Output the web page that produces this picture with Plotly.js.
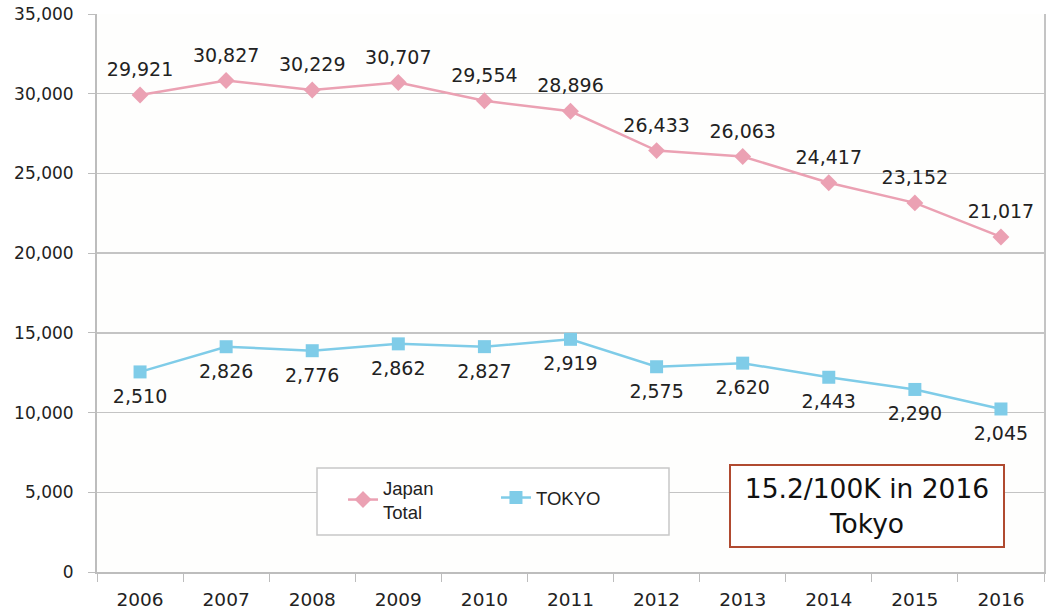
<!DOCTYPE html>
<html>
<head>
<meta charset="utf-8">
<script src="https://cdn.plot.ly/plotly-3.0.1.min.js"></script>
<style>html,body{margin:0;padding:0;background:#fff;}#chart{width:1048px;height:614px;}</style>
</head>
<body>
<div id="chart"></div>
<script>
const years = ["2006","2007","2008","2009","2010","2011","2012","2013","2014","2015","2016"];
const japanTotal = [29921, 30827, 30229, 30707, 29554, 28896, 26433, 26063, 24417, 23152, 21017];
const tokyo = [2510, 2826, 2776, 2862, 2827, 2919, 2575, 2620, 2443, 2290, 2045];
const yTickVals = [0, 5000, 10000, 15000, 20000, 25000, 30000, 35000];

const fmt = v => v.toLocaleString("en-US");
const FONT = "DejaVu Sans, Verdana, sans-serif";
const pink = "#EBA1B3";
const blue = "#7FCCE8";
const labelFont = {family: FONT, size: 19, color: "#222"};

const traces = [
  {
    x: years, y: japanTotal, name: "Japan<br>Total", type: "scatter",
    mode: "lines+markers", legend: "legend",
    line: {color: pink, width: 2.5},
    marker: {symbol: "diamond", size: 13, color: pink},
    cliponaxis: false
  },
  {
    x: years, y: tokyo, name: "TOKYO", type: "scatter", yaxis: "y2",
    mode: "lines+markers", legend: "legend2",
    line: {color: blue, width: 2.5},
    marker: {symbol: "square", size: 13, color: blue},
    cliponaxis: false
  },
  {
    x: years, y: japanTotal, type: "scatter", mode: "markers+text", showlegend: false,
    text: japanTotal.map(fmt), textposition: "top center", textfont: labelFont,
    marker: {size: 21, color: pink, opacity: 0}, cliponaxis: false, hoverinfo: "skip"
  },
  {
    x: years, y: tokyo, yaxis: "y2", type: "scatter", mode: "markers+text", showlegend: false,
    text: tokyo.map(fmt), textposition: "bottom center", textfont: labelFont,
    marker: {size: 25, color: blue, opacity: 0}, cliponaxis: false, hoverinfo: "skip"
  }
];

const legendFont = {family: "Liberation Sans, Arial, sans-serif", size: 18.5, color: "#222"};

const layout = {
  width: 1048, height: 614,
  margin: {l: 97, r: 4, t: 14, b: 42},
  paper_bgcolor: "#ffffff", plot_bgcolor: "#fefefd",
  font: {family: FONT, color: "#222"},
  showlegend: true,
  xaxis: {
    type: "category", tickson: "boundaries",
    ticks: "outside", ticklen: 8, tickcolor: "#bdbdbd",
    showline: true, linecolor: "#bdbdbd", linewidth: 2,
    showgrid: false, zeroline: false,
    ticklabelstandoff: 10,
    tickfont: {family: FONT, size: 18.5, color: "#222"},
    range: [-0.5, 10.5]
  },
  yaxis: {
    range: [0, 35000], tickvals: yTickVals, ticktext: yTickVals.map(fmt),
    showgrid: true, gridcolor: "#c4c4c4", gridwidth: 1.5,
    showline: true, linecolor: "#bdbdbd", linewidth: 2,
    ticks: "outside", ticklen: 7, tickcolor: "#bdbdbd",
    zeroline: false, ticklabelstandoff: 11,
    tickfont: {family: FONT, size: 17, color: "#222"}
  },
  yaxis2: {
    overlaying: "y", side: "right", range: [0, 7000],
    showgrid: false, zeroline: false, showticklabels: false,
    showline: true, linecolor: "#c4c4c4", linewidth: 2, ticks: ""
  },
  legend: {
    orientation: "v", x: 0.2598, y: (572-500)/558, xanchor: "left", yanchor: "middle",
    bgcolor: "rgba(0,0,0,0)", borderwidth: 0, font: legendFont
  },
  legend2: {
    orientation: "v", x: 0.4213, y: (572-498)/558, xanchor: "left", yanchor: "middle",
    bgcolor: "rgba(0,0,0,0)", borderwidth: 0, font: legendFont
  },
  shapes: [
    {type: "rect", xref: "paper", yref: "paper", layer: "above",
     x0: (317-97)/947, x1: (669-97)/947, y0: (572-535)/558, y1: (572-468)/558,
     fillcolor: "#ffffff", line: {color: "#c8c8c8", width: 1.5}}
  ],
  annotations: [
    {xref: "paper", yref: "paper", x: (867-97)/947, y: (572-506)/558,
     xanchor: "center", yanchor: "middle", showarrow: false,
     text: "15.2/100K in 2016<br>Tokyo",
     font: {family: FONT, size: 26.5, color: "#111"},
     bgcolor: "#ffffff", bordercolor: "#B04A30", borderwidth: 2, borderpad: 0,
     width: 272, height: 80, align: "center"}
  ]
};

Plotly.newPlot("chart", traces, layout, {displayModeBar: false, staticPlot: true});
</script>
</body>
</html>
